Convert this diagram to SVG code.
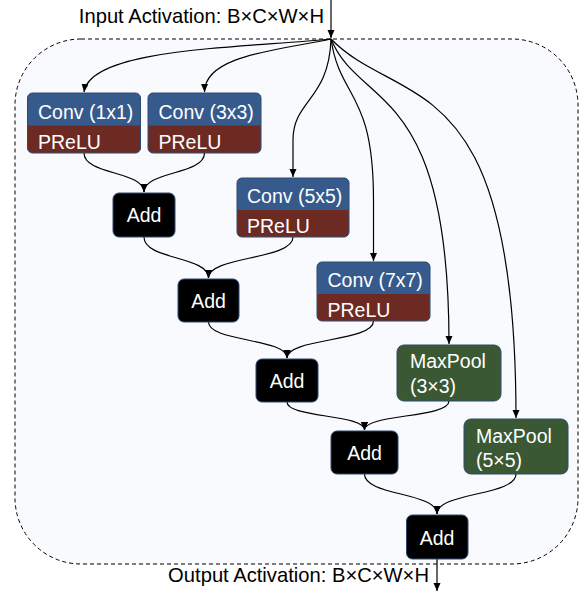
<svg xmlns="http://www.w3.org/2000/svg" width="581" height="595" viewBox="0 0 581 595">
<style>
text{font-family:"Liberation Sans",Arial,sans-serif;font-size:19.5px;fill:#fff}
.lbl{fill:#000;font-size:20.2px}
.conv{fill:#365A8C;stroke:#2C4A70;stroke-width:1}
.act{fill:#6C2A22}
.pool{fill:#3A5834;stroke:#2C4A70;stroke-width:1}
.add{fill:#000;stroke:#2C4A70;stroke-width:1}
.edge{fill:none;stroke:#000;stroke-width:1.2;marker-end:url(#ah)}
</style>
<defs>
<marker id="ah" markerWidth="8" markerHeight="8" refX="8" refY="4" orient="auto" markerUnits="userSpaceOnUse">
<path d="M0,0.5 L8,4 L0,7.5 z" fill="#000"/>
</marker>
</defs>
<rect id="block" x="15" y="39" width="563" height="525" rx="66" ry="66" fill="#F8FAFD" stroke="#000" stroke-width="1" stroke-dasharray="4,3"/>
<text class="lbl" x="324" y="23" text-anchor="end">Input Activation: B×C×W×H</text>
<text class="lbl" x="429" y="582" text-anchor="end">Output Activation: B×C×W×H</text>
<g id="connectors">
<path class="edge" d="M331,0 L331,38"/>
<path class="edge" d="M331,39 C240,48 90,48 84,92"/>
<path class="edge" d="M331,39 C280,50 204.5,55 204.5,92"/>
<path class="edge" d="M331,39 C329,100 293,100 293,140 L293,177"/>
<path class="edge" d="M331,39 C340,100 373.5,90 373.5,200 L373.5,261"/>
<path class="edge" d="M331,39 C360,110 449,80 449,344"/>
<path class="edge" d="M331,39 C400,110 516,60 516,418"/>
<path class="edge" d="M84,153 C84,175 144,171 144,192"/>
<path class="edge" d="M204.5,153 C204.5,175 144,171 144,192"/>
<path class="edge" d="M144,237 C144,260 208.5,256 208.5,278"/>
<path class="edge" d="M293,237 C293,260 208.5,256 208.5,278"/>
<path class="edge" d="M208.5,322 C208.5,342 287,338 287,358"/>
<path class="edge" d="M373.5,321 C373.5,342 287,338 287,358"/>
<path class="edge" d="M287,402 C287,418 364.5,414 364.5,430"/>
<path class="edge" d="M449,401 C449,418 364.5,414 364.5,430"/>
<path class="edge" d="M364.5,474 C364.5,496 437,492 437,514"/>
<path class="edge" d="M516,474 C516,496 437,492 437,514"/>
<path class="edge" d="M437,559 L437,591"/>
</g>
<g id="conv1">
<rect class="conv" x="27.5" y="93" width="113" height="60" rx="5"/>
<path class="act" d="M28,125.5 H140 V148 a4.5,4.5 0 0 1 -4.5,4.5 H32.5 a4.5,4.5 0 0 1 -4.5,-4.5 z"/>
<text x="38" y="119">Conv (1x1)</text>
<text x="38" y="149">PReLU</text>
</g>
<g id="conv3">
<rect class="conv" x="148" y="93" width="113" height="60" rx="5"/>
<path class="act" d="M148.5,125.5 H260.5 V148 a4.5,4.5 0 0 1 -4.5,4.5 H153 a4.5,4.5 0 0 1 -4.5,-4.5 z"/>
<text x="158.5" y="119">Conv (3x3)</text>
<text x="158.5" y="149">PReLU</text>
</g>
<g id="conv5">
<rect class="conv" x="237" y="178" width="112" height="59" rx="5"/>
<path class="act" d="M237.5,210 H348.5 V232 a4.5,4.5 0 0 1 -4.5,4.5 H242 a4.5,4.5 0 0 1 -4.5,-4.5 z"/>
<text x="247" y="203">Conv (5x5)</text>
<text x="247" y="233">PReLU</text>
</g>
<g id="conv7">
<rect class="conv" x="317" y="262" width="113" height="59" rx="5"/>
<path class="act" d="M317.5,294 H429.5 V316 a4.5,4.5 0 0 1 -4.5,4.5 H322 a4.5,4.5 0 0 1 -4.5,-4.5 z"/>
<text x="327.5" y="287">Conv (7x7)</text>
<text x="327.5" y="317">PReLU</text>
</g>
<g id="add1">
<rect class="add" x="113" y="193" width="62" height="44" rx="6"/>
<text x="144" y="222" text-anchor="middle">Add</text>
</g>
<g id="add2">
<rect class="add" x="178" y="279" width="61" height="43" rx="6"/>
<text x="208.5" y="308" text-anchor="middle">Add</text>
</g>
<g id="add3">
<rect class="add" x="256" y="359" width="62" height="43" rx="6"/>
<text x="287" y="388" text-anchor="middle">Add</text>
</g>
<g id="maxpool3">
<rect class="pool" x="397" y="345" width="104" height="56" rx="7"/>
<text x="410" y="368">MaxPool</text>
<text x="410" y="393">(3×3)</text>
</g>
<g id="add4">
<rect class="add" x="331" y="431" width="67" height="43" rx="6"/>
<text x="364.5" y="460" text-anchor="middle">Add</text>
</g>
<g id="maxpool5">
<rect class="pool" x="464" y="419" width="104" height="55" rx="7"/>
<text x="476" y="443">MaxPool</text>
<text x="476" y="467">(5×5)</text>
</g>
<g id="add5">
<rect class="add" x="406.5" y="515" width="61.5" height="44" rx="6"/>
<text x="437" y="545" text-anchor="middle">Add</text>
</g>
</svg>
